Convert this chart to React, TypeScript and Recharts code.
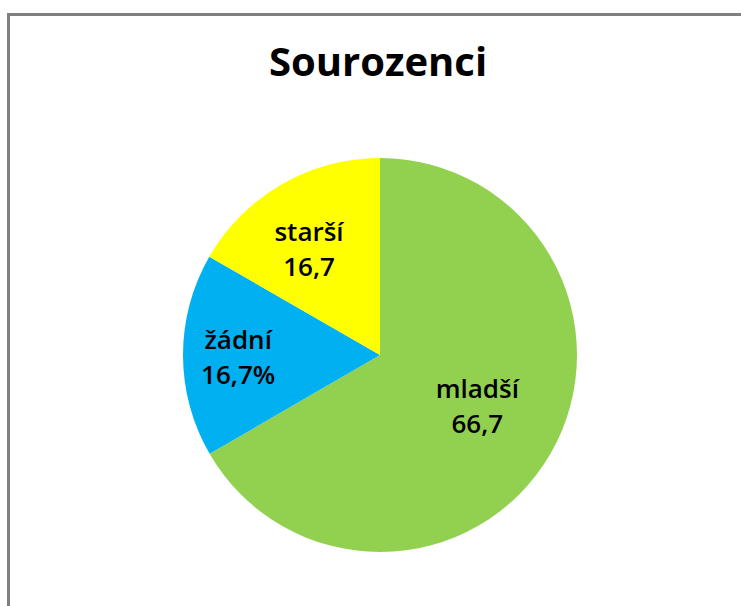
import { PieChart, Pie, Cell } from "recharts";

const categories = ["mladší", "žádní", "starší"];
const values = [66.7, 16.7, 16.7];
const valueLabels = ["66,7", "16,7%", "16,7"];
const colors = ["#92D050", "#00B0F0", "#FFFF00"];

const data = categories.map((name, i) => ({ name, value: values[i] }));

const RAD = Math.PI / 180;

// labels sit inside the slices, a bit flattened vertically like Excel does
const renderLabel = (props: any) => {
  const { cx, cy, midAngle, outerRadius, percent, index } = props;
  const f = percent > 0.5 ? 0.57 : 0.72;
  const r = outerRadius * f;
  const x = cx + r * Math.cos(-midAngle * RAD);
  const y = cy + r * 0.88 * Math.sin(-midAngle * RAD);
  return (
    <text
      x={x}
      y={y}
      textAnchor="middle"
      fill="#000"
      style={{ fontFamily: "'Open Sans', sans-serif", fontSize: 26, fontWeight: 600 }}
    >
      <tspan x={x} dy={-6}>{categories[index]}</tspan>
      <tspan x={x} dy={35}>{valueLabels[index]}</tspan>
    </text>
  );
};

export default function App() {
  return (
    <div style={{ position: "absolute", left: 0, top: 0, width: 741, height: 606, background: "#fff" }}>
      <div
        style={{
          position: "absolute",
          left: 7,
          top: 13,
          width: 734,
          height: 593,
          borderTop: "3px solid #808080",
          borderLeft: "3px solid #808080",
        }}
      />
      <div
        style={{
          position: "absolute",
          left: 0,
          top: 34,
          width: 756,
          textAlign: "center",
          fontFamily: "'Open Sans', sans-serif",
          fontWeight: 700,
          fontSize: 40,
          lineHeight: "54px",
          color: "#000",
        }}
      >
        Sourozenci
      </div>
      <div style={{ position: "absolute", left: 0, top: 0 }}>
        <PieChart width={741} height={606} margin={{ top: 0, right: 0, bottom: 0, left: 0 }}>
          <Pie
            data={data}
            dataKey="value"
            nameKey="name"
            cx={380}
            cy={355}
            outerRadius={197}
            startAngle={90}
            endAngle={-270}
            stroke="none"
            label={renderLabel}
            labelLine={false}
            isAnimationActive={false}
          >
            {data.map((d, i) => (
              <Cell key={d.name} fill={colors[i]} />
            ))}
          </Pie>
        </PieChart>
      </div>
    </div>
  );
}
